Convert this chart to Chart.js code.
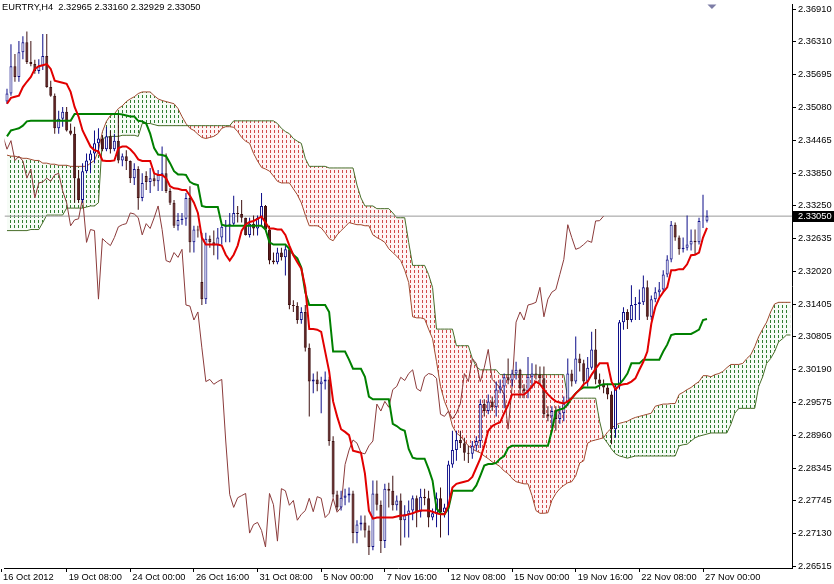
<!DOCTYPE html>
<html><head><meta charset="utf-8">
<script src="https://cdn.jsdelivr.net/npm/chart.js@4.4.1/dist/chart.umd.min.js"></script>
<style>html,body{margin:0;padding:0;background:#fff;overflow:hidden}#wrap{width:834px;height:584px}</style>
</head><body><div id="wrap"><canvas id="c" width="834" height="584" style="width:834px;height:584px"></canvas></div>
<script>
const symbol = 'EURTRY,H4';
const chikouShift = 26;

const opens = [
2.3519,2.3534,2.3585,2.3565,2.3611,2.3630,2.3593,2.3589,2.3576,2.3585,
2.3604,2.3546,2.3530,2.3469,2.3487,2.3500,2.3465,2.3459,2.3376,2.3335,
2.3389,2.3409,2.3422,2.3441,2.3450,2.3430,2.3454,2.3430,2.3446,2.3409,
2.3417,2.3408,2.3376,2.3393,2.3339,2.3380,2.3369,2.3376,2.3370,2.3382,
2.3385,2.3352,2.3330,2.3287,2.3298,2.3300,2.3339,2.3256,2.3280,2.3182,
2.3150,2.3263,2.3256,2.3250,2.3265,2.3285,2.3289,2.3291,2.3311,2.3309,
2.3302,2.3270,2.3291,2.3282,2.3302,2.3324,2.3280,2.3222,2.3219,2.3237,
2.3228,2.3243,2.3139,2.3137,2.3111,2.3126,2.3059,2.2996,2.3000,2.2991,
2.2996,2.3000,2.2885,2.2785,2.2761,2.2779,2.2783,2.2787,2.2713,2.2729,
2.2733,2.2718,2.2687,2.2787,2.2766,2.2698,2.2796,2.2792,2.2765,2.2774,
2.2737,2.2748,2.2755,2.2778,2.2753,2.2781,2.2778,2.2742,2.2750,2.2778,
2.2752,2.2761,2.2841,2.2868,2.2887,2.2881,2.2863,2.2861,2.2876,2.2885,
2.2954,2.2941,2.2959,2.2948,2.2981,2.2987,2.3004,2.2998,2.3011,2.3018,
2.2983,2.2978,2.3005,2.3011,2.3009,2.3002,2.2935,2.2931,2.2941,2.2926,
2.2937,2.2955,2.3011,2.2996,2.3039,2.3030,2.2996,2.3022,2.3056,2.3000,
2.2992,2.2985,2.2972,2.2907,2.2987,2.3107,2.3126,2.3111,2.3139,2.3141,
2.3144,2.3172,2.3117,2.3150,2.3163,2.3168,2.3196,2.3224,2.3289,2.3265,
2.3243,2.3246,2.3252,2.3259,2.3256,2.3296,2.32965];

const highs = [
2.3543,2.3626,2.3608,2.3632,2.3641,2.3650,2.3632,2.3597,2.3598,2.3645,
2.3645,2.3558,2.3534,2.3502,2.3509,2.3509,2.3478,2.3472,2.3391,2.3404,
2.3422,2.3428,2.3465,2.3469,2.3456,2.3472,2.3465,2.3459,2.3496,2.3422,
2.3428,2.3409,2.3404,2.3398,2.3385,2.3389,2.3395,2.3385,2.3391,2.3435,
2.3422,2.3357,2.3335,2.3311,2.3311,2.3348,2.3361,2.3287,2.3287,2.3274,
2.3274,2.3269,2.3278,2.3283,2.3289,2.3298,2.3311,2.3343,2.3324,2.3335,
2.3302,2.3302,2.3306,2.3306,2.3348,2.3326,2.3287,2.3237,2.3246,2.3246,
2.3250,2.3250,2.3148,2.3144,2.3135,2.3139,2.3067,2.3011,2.3015,2.3005,
2.3015,2.3005,2.2894,2.2792,2.2792,2.2796,2.2798,2.2792,2.2737,2.2746,
2.2746,2.2727,2.2811,2.2811,2.2774,2.2805,2.2807,2.2820,2.2783,2.2787,
2.2765,2.2774,2.2783,2.2783,2.2796,2.2796,2.2792,2.2759,2.2789,2.2798,
2.2768,2.2848,2.2904,2.2904,2.2904,2.2891,2.2876,2.2885,2.2894,2.2963,
2.2963,2.2972,2.2968,2.2996,2.3000,2.3011,2.3039,2.3018,2.3033,2.3020,
2.2991,2.3042,2.3030,2.3028,2.3024,2.3024,2.2950,2.2950,2.2950,2.2950,
2.2968,2.3039,2.3018,2.3080,2.3048,2.3037,2.3042,2.3089,2.3094,2.3011,
2.3000,2.2992,2.2978,2.2991,2.3111,2.3135,2.3131,2.3176,2.3154,2.3168,
2.3194,2.3185,2.3157,2.3172,2.3182,2.3204,2.3232,2.3296,2.3293,2.3269,
2.3265,2.3306,2.3280,2.3280,2.3302,2.3345,2.33160];

const lows = [
2.3515,2.3530,2.3556,2.3556,2.3598,2.3589,2.3585,2.3571,2.3571,2.3578,
2.3545,2.3528,2.3459,2.3459,2.3472,2.3463,2.3456,2.3330,2.3330,2.3330,
2.3385,2.3385,2.3404,2.3422,2.3426,2.3426,2.3422,2.3426,2.3404,2.3398,
2.3391,2.3367,2.3363,2.3317,2.3333,2.3354,2.3348,2.3361,2.3352,2.3352,
2.3348,2.3326,2.3283,2.3278,2.3289,2.3287,2.3237,2.3237,2.3265,2.3139,
2.3141,2.3246,2.3232,2.3224,2.3252,2.3256,2.3256,2.3287,2.3293,2.3293,
2.3269,2.3265,2.3269,2.3269,2.3287,2.3278,2.3215,2.3215,2.3215,2.3222,
2.3194,2.3131,2.3126,2.3104,2.3104,2.3052,2.2931,2.2974,2.2978,2.2937,
2.2981,2.2876,2.2779,2.2755,2.2755,2.2765,2.2770,2.2694,2.2694,2.2718,
2.2705,2.2672,2.2681,2.2755,2.2676,2.2685,2.2761,2.2755,2.2755,2.2690,
2.2705,2.2705,2.2737,2.2724,2.2742,2.2765,2.2724,2.2737,2.2724,2.2705,
2.2742,2.2709,2.2835,2.2848,2.2872,2.2848,2.2844,2.2852,2.2867,2.2872,
2.2931,2.2935,2.2941,2.2931,2.2974,2.2946,2.2991,2.2987,2.3000,2.2965,
2.2965,2.2965,2.2983,2.3000,2.2991,2.2928,2.2922,2.2909,2.2904,2.2917,
2.2922,2.2950,2.2987,2.2992,2.3015,2.2987,2.2987,2.3018,2.2991,2.2981,
2.2974,2.2963,2.2879,2.2891,2.2981,2.3093,2.3094,2.3107,2.3111,2.3111,
2.3139,2.3111,2.3111,2.3144,2.3154,2.3163,2.3191,2.3219,2.3259,2.3233,
2.3237,2.3241,2.3241,2.3233,2.3252,2.3283,2.32929];

const closes = [
2.3534,2.3585,2.3565,2.3611,2.3630,2.3593,2.3589,2.3576,2.3585,2.3604,
2.3546,2.3530,2.3469,2.3487,2.3500,2.3465,2.3459,2.3376,2.3335,2.3389,
2.3409,2.3422,2.3441,2.3450,2.3430,2.3454,2.3430,2.3446,2.3409,2.3417,
2.3408,2.3376,2.3393,2.3339,2.3367,2.3369,2.3376,2.3370,2.3382,2.3385,
2.3352,2.3330,2.3287,2.3298,2.3300,2.3339,2.3256,2.3280,2.3278,2.3150,
2.3263,2.3256,2.3250,2.3265,2.3285,2.3289,2.3291,2.3311,2.3309,2.3302,
2.3270,2.3291,2.3282,2.3302,2.3324,2.3280,2.3222,2.3219,2.3237,2.3228,
2.3243,2.3139,2.3137,2.3111,2.3126,2.3059,2.2996,2.3000,2.2991,2.2996,
2.3000,2.2885,2.2785,2.2761,2.2779,2.2783,2.2787,2.2713,2.2729,2.2733,
2.2718,2.2687,2.2787,2.2766,2.2698,2.2796,2.2792,2.2765,2.2774,2.2737,
2.2748,2.2755,2.2778,2.2753,2.2781,2.2778,2.2742,2.2750,2.2778,2.2752,
2.2761,2.2841,2.2868,2.2887,2.2881,2.2863,2.2861,2.2876,2.2885,2.2954,
2.2941,2.2959,2.2948,2.2981,2.2987,2.3004,2.2998,2.3011,2.3018,2.2983,
2.2978,2.3005,2.3011,2.3009,2.3002,2.2935,2.2931,2.2941,2.2926,2.2937,
2.2955,2.3011,2.2996,2.3039,2.3030,2.2996,2.3022,2.3056,2.3000,2.2992,
2.2985,2.2972,2.2907,2.2987,2.3107,2.3126,2.3111,2.3139,2.3141,2.3144,
2.3172,2.3117,2.3150,2.3163,2.3168,2.3196,2.3224,2.3289,2.3265,2.3243,
2.3246,2.3252,2.3259,2.3256,2.3296,2.32965,2.33050];

const tenkan = [
2.3515,2.3526,2.3528,2.3530,2.3546,2.3556,2.3565,2.3580,2.3585,2.3587,
2.3589,2.3580,2.3558,2.3556,2.3554,2.3552,2.3537,2.3509,2.3491,2.3465,
2.3450,2.3435,2.3428,2.3426,2.3409,2.3408,2.3408,2.3409,2.3432,2.3435,
2.3435,2.3430,2.3422,2.3411,2.3408,2.3408,2.3408,2.3385,2.3382,2.3382,
2.3376,2.3361,2.3357,2.3356,2.3354,2.3354,2.3343,2.3330,2.3311,2.3265,
2.3252,2.3252,2.3252,2.3252,2.3250,2.3233,2.3222,2.3233,2.3250,2.3278,
2.3289,2.3294,2.3296,2.3300,2.3304,2.3293,2.3282,2.3282,2.3280,2.3280,
2.3270,2.3250,2.3232,2.3219,2.3207,2.3172,2.3094,2.3094,2.3093,2.3089,
2.3052,2.3015,2.2959,2.2931,2.2907,2.2902,2.2896,2.2867,2.2865,2.2863,
2.2824,2.2755,2.2740,2.2742,2.2742,2.2742,2.2742,2.2742,2.2744,2.2746,
2.2746,2.2748,2.2750,2.2753,2.2755,2.2755,2.2755,2.2753,2.2750,2.2748,
2.2748,2.2765,2.2798,2.2805,2.2807,2.2809,2.2811,2.2818,2.2835,2.2852,
2.2876,2.2904,2.2913,2.2917,2.2920,2.2937,2.2952,2.2972,2.2972,2.2972,
2.2972,2.2978,2.2987,2.2996,2.2991,2.2981,2.2972,2.2965,2.2959,2.2957,
2.2955,2.2959,2.2965,2.2974,2.2981,2.2991,2.2996,2.3009,2.3020,2.3030,
2.3030,2.3030,2.2996,2.2981,2.2989,2.2991,2.2992,2.2996,2.3002,2.3018,
2.3033,2.3052,2.3104,2.3135,2.3152,2.3163,2.3172,2.3204,2.3204,2.3206,
2.3206,2.3215,2.3232,2.3233,2.3237,2.3265,2.3283];

const kijun = [
2.3454,2.3465,2.3467,2.3469,2.3474,2.3482,2.3483,2.3483,2.3483,2.3483,
2.3483,2.3483,2.3483,2.3483,2.3483,2.3483,2.3483,2.3496,2.3496,2.3496,
2.3496,2.3496,2.3496,2.3496,2.3496,2.3496,2.3496,2.3496,2.3496,2.3495,
2.3493,2.3491,2.3491,2.3483,2.3482,2.3478,2.3459,2.3432,2.3420,2.3419,
2.3417,2.3404,2.3389,2.3383,2.3383,2.3382,2.3369,2.3365,2.3363,2.3324,
2.3322,2.3322,2.3322,2.3322,2.3289,2.3287,2.3287,2.3287,2.3287,2.3287,
2.3287,2.3287,2.3287,2.3287,2.3287,2.3280,2.3256,2.3252,2.3252,2.3252,
2.3252,2.3244,2.3233,2.3226,2.3209,2.3163,2.3139,2.3139,2.3139,2.3139,
2.3139,2.3126,2.3052,2.3052,2.3052,2.3052,2.3037,2.3020,2.3020,2.3020,
2.3005,2.2968,2.2963,2.2963,2.2963,2.2963,2.2963,2.2917,2.2913,2.2907,
2.2904,2.2870,2.2854,2.2852,2.2852,2.2852,2.2833,2.2811,2.2759,2.2750,
2.2748,2.2759,2.2792,2.2792,2.2792,2.2792,2.2792,2.2792,2.2802,2.2820,
2.2839,2.2842,2.2842,2.2844,2.2852,2.2857,2.2872,2.2876,2.2876,2.2876,
2.2876,2.2876,2.2876,2.2876,2.2876,2.2876,2.2876,2.2904,2.2941,2.2944,
2.2946,2.2954,2.2965,2.2974,2.2981,2.2985,2.2985,2.2985,2.2985,2.2989,
2.2991,2.2991,2.2991,2.2991,2.2991,2.3000,2.3011,2.3030,2.3030,2.3030,
2.3037,2.3037,2.3037,2.3037,2.3037,2.3052,2.3065,2.3083,2.3085,2.3085,
2.3085,2.3085,2.3085,2.3089,2.3093,2.3111,2.3113];

const senkouA = [
2.3419,2.3417,2.3417,2.3415,2.3413,2.3413,2.3411,2.3409,2.3409,2.3404,
2.3404,2.3402,2.3402,2.3400,2.3400,2.3400,2.3398,2.3398,2.3398,2.3398,
2.3398,2.3404,2.3409,2.3428,2.3463,2.3482,2.3493,2.3496,2.3506,2.3511,
2.3519,2.3524,2.3528,2.3534,2.3537,2.3537,2.3537,2.3530,2.3524,2.3521,
2.3519,2.3517,2.3515,2.3506,2.3491,2.3478,2.3469,2.3465,2.3458,2.3452,
2.3450,2.3452,2.3454,2.3459,2.3469,2.3472,2.3472,2.3471,2.3463,2.3452,
2.3445,2.3441,2.3422,2.3408,2.3396,2.3393,2.3389,2.3380,2.3370,2.3367,
2.3367,2.3367,2.3356,2.3345,2.3330,2.3307,2.3287,2.3287,2.3287,2.3283,
2.3274,2.3263,2.3259,2.3270,2.3278,2.3285,2.3293,2.3291,2.3289,2.3289,
2.3287,2.3287,2.3270,2.3265,2.3261,2.3256,2.3244,2.3237,2.3230,2.3222,
2.3204,2.3181,2.3117,2.3115,2.3115,2.3113,2.3094,2.3076,2.3033,2.2987,
2.2959,2.2941,2.2913,2.2900,2.2894,2.2885,2.2876,2.2870,2.2866,2.2863,
2.2857,2.2852,2.2846,2.2842,2.2837,2.2829,2.2824,2.2815,2.2809,2.2807,
2.2805,2.2805,2.2783,2.2755,2.2750,2.2750,2.2751,2.2774,2.2787,2.2796,
2.2802,2.2807,2.2809,2.2820,2.2844,2.2848,2.2881,2.2885,2.2887,2.2889,
2.2891,2.2902,2.2909,2.2915,2.2918,2.2920,2.2922,2.2926,2.2929,2.2931,
2.2933,2.2935,2.2937,2.2950,2.2952,2.2954,2.2954,2.2955,2.2955,2.2972,
2.2976,2.2981,2.2985,2.2991,2.2996,2.3007,2.3007,2.3005,2.3009,2.3011,
2.3015,2.3022,2.3028,2.3028,2.3028,2.3030,2.3039,2.3046,2.3061,2.3080,
2.3094,2.3107,2.3126,2.3141,2.3144,2.3144,2.3144,2.3144];

const senkouB = [
2.3278,2.3278,2.3278,2.3278,2.3278,2.3278,2.3280,2.3280,2.3280,2.3293,
2.3307,2.3307,2.3307,2.3307,2.3307,2.3320,2.3320,2.3320,2.3320,2.3320,
2.3322,2.3324,2.3324,2.3330,2.3450,2.3452,2.3454,2.3454,2.3454,2.3456,
2.3456,2.3456,2.3456,2.3454,2.3478,2.3478,2.3478,2.3476,2.3474,2.3474,
2.3474,2.3474,2.3474,2.3474,2.3474,2.3474,2.3474,2.3474,2.3474,2.3474,
2.3474,2.3474,2.3474,2.3474,2.3474,2.3474,2.3474,2.3483,2.3483,2.3483,
2.3483,2.3483,2.3483,2.3483,2.3483,2.3483,2.3483,2.3483,2.3478,2.3469,
2.3463,2.3459,2.3450,2.3445,2.3441,2.3413,2.3398,2.3398,2.3398,2.3398,
2.3398,2.3395,2.3395,2.3395,2.3395,2.3395,2.3395,2.3395,2.3363,2.3339,
2.3324,2.3324,2.3324,2.3319,2.3319,2.3319,2.3319,2.3311,2.3302,2.3302,
2.3302,2.3256,2.3213,2.3213,2.3213,2.3213,2.3196,2.3172,2.3094,2.3094,
2.3094,2.3094,2.3094,2.3063,2.3063,2.3063,2.3063,2.3039,2.3024,2.3018,
2.3018,2.3018,2.3018,2.3018,2.3009,2.3009,2.3009,2.3009,2.3009,2.3009,
2.3009,2.3009,2.3009,2.3009,2.3009,2.3009,2.3009,2.3009,2.3009,2.3009,
2.3009,2.2965,2.2965,2.2965,2.2965,2.2965,2.2965,2.2965,2.2965,2.2922,
2.2891,2.2881,2.2870,2.2861,2.2857,2.2855,2.2853,2.2855,2.2857,2.2857,
2.2857,2.2857,2.2857,2.2857,2.2857,2.2857,2.2857,2.2857,2.2857,2.2876,
2.2878,2.2879,2.2885,2.2891,2.2894,2.2896,2.2898,2.2900,2.2900,2.2900,
2.2900,2.2900,2.2916,2.2937,2.2946,2.2946,2.2946,2.2946,2.2946,2.2987,
2.3005,2.3030,2.3039,2.3052,2.3070,2.3076,2.3083,2.3083];

const yTicks = [2.36910,2.36310,2.35695,2.35080,2.34465,2.33850,2.33250,2.32635,2.32020,
  2.31405,2.30805,2.30190,2.29575,2.28960,2.28345,2.27745,2.27130,2.26515];
const xTickBars = [-1.5,15,31,47,63,79,95,111,127,143,159,175];
const xTickLabels = ['16 Oct 2012','19 Oct 08:00','24 Oct 00:00','26 Oct 16:00','31 Oct 08:00',
  '5 Nov 00:00','7 Nov 16:00','12 Nov 08:00','15 Nov 00:00','19 Nov 16:00','22 Nov 08:00','27 Nov 00:00'];
const markerBars = [177.25];

const FONT = '"Liberation Sans", Arial, sans-serif';
const FSIZE = 9.3;
const X_MIN = -0.625, X_MAX = 197.375, Y_MIN = 2.26478, Y_MAX = 2.37003;

const canvas = document.getElementById('c');
const ctx0 = canvas.getContext('2d');
function hatch(bg, fg){
  const p = document.createElement('canvas'); p.width = 4; p.height = 5;
  const g = p.getContext('2d');
  g.fillStyle = bg; g.fillRect(0,0,4,5);
  g.fillStyle = fg; g.fillRect(2,0,1,3);
  return ctx0.createPattern(p,'repeat');
}
const greenHatch = hatch('rgba(240,250,240,0.6)', '#2f7d2f');
const redHatch = hatch('rgba(255,238,238,0.6)', '#cf4a4a');

const N = closes.length;
const idx = closes.map((_, i) => i);
const isBull = idx.map(i => closes[i] >= opens[i]);
const last = closes[N-1];
const BULL = '#0c0c88', BEAR = '#3e1010', BEARFILL = '#5e1e1e';

const overlay = {
  id: 'overlay',
  afterDraw(chart){
    const ctx = chart.ctx, ys = chart.scales.y;
    ctx.save();
    ctx.font = FSIZE + 'px ' + FONT;
    ctx.textBaseline = 'middle';
    ctx.fillStyle = '#000';
    const title = symbol + '  ' + opens[N-1].toFixed(5) + ' ' + highs[N-1].toFixed(5) + ' ' +
      lows[N-1].toFixed(5) + ' ' + closes[N-1].toFixed(5);
    ctx.fillText(title, 2, 7);
    const py = ys.getPixelForValue(last);
    ctx.fillStyle = '#000';
    ctx.fillRect(793, Math.round(py - 5.5), 41, 11);
    ctx.fillStyle = '#fff';
    ctx.fillText(last.toFixed(5), 798, py + 0.5);
    ctx.restore();
  }
};

new Chart(canvas, {
  type: 'line',
  data: {
    datasets: [
      { type:'line', label:'Senkou A', data: senkouA.map((v,i)=>({x:i,y:v})),
        borderColor:'#a04a30', borderWidth:1, pointRadius:0, tension:0,
        fill:{target:'+1', above: greenHatch, below: redHatch}, order:10 },
      { type:'line', label:'Senkou B', data: senkouB.map((v,i)=>({x:i,y:v})),
        borderColor:'#476e2a', borderWidth:1, pointRadius:0, tension:0, fill:false, order:9 },
      { type:'line', label:'Price', data:[{x:X_MIN,y:last},{x:X_MAX,y:last}],
        borderColor:'#9a9a9a', borderWidth:1, pointRadius:0, fill:false, order:8 },
      { type:'line', label:'Chikou', data: closes.map((c,i)=>({x:i-chikouShift,y:c})),
        borderColor:'#8b3b3b', borderWidth:1, pointRadius:0, tension:0, fill:false, order:7 },
      { type:'bar', label:'Wicks', data: idx.map(i=>({x:i,y:[lows[i],highs[i]]})),
        backgroundColor: idx.map(i=>isBull[i]?BULL:BEAR), borderWidth:0,
        barThickness:1, grouped:false, inflateAmount:0, order:6 },
      { type:'bar', label:'Bodies', data: idx.map(i=>({x:i,y:[opens[i],closes[i]]})),
        backgroundColor: idx.map(i=>isBull[i]?'#ffffff':BEARFILL),
        borderColor: idx.map(i=>isBull[i]?BULL:BEAR), borderWidth:1, borderSkipped:false,
        barThickness:3, grouped:false, inflateAmount:0, order:5 },
      { type:'line', label:'Kijun', data: kijun.map((v,i)=>({x:i,y:v})),
        borderColor:'#008000', borderWidth:2, pointRadius:0, tension:0, fill:false, order:2 },
      { type:'line', label:'Tenkan', data: tenkan.map((v,i)=>({x:i,y:v})),
        borderColor:'#e20000', borderWidth:2, pointRadius:0, tension:0, fill:false, order:1 },
      { type:'scatter', label:'Marker', data: markerBars.map(b=>({x:b,y:Y_MAX})),
        pointStyle:'rectRot', pointRadius:4.5, backgroundColor:'#7d7da6', borderColor:'#7d7da6',
        borderWidth:0, order:0 }
    ]
  },
  options: {
    responsive:false, animation:false, devicePixelRatio:1, events:[],
    layout:{padding:0},
    plugins:{legend:{display:false}, tooltip:{enabled:false}, title:{display:false}},
    scales:{
      x:{ type:'linear', min:X_MIN, max:X_MAX, offset:false, position:'bottom',
        grid:{display:true, drawOnChartArea:false, drawTicks:true, tickLength:4, color:'#000', offset:false},
        border:{display:true, color:'#000', width:1},
        ticks:{autoSkip:false, maxRotation:0, minRotation:0, align:'start', labelOffset:2, padding:0,
          color:'#000', font:{family:FONT, size:FSIZE},
          callback:(v)=>{ const k = xTickBars.indexOf(v); return k>=0 ? xTickLabels[k] : ''; }},
        afterBuildTicks:(s)=>{ s.ticks = xTickBars.map(v=>({value:v})); },
        afterFit:(s)=>{ s.height = 16; s.paddingLeft = 0; s.paddingRight = 0; }
      },
      y:{ type:'linear', position:'right', min:Y_MIN, max:Y_MAX, beginAtZero:false,
        grid:{display:true, drawOnChartArea:false, drawTicks:true, tickLength:4, color:'#000'},
        border:{display:true, color:'#000', width:1},
        ticks:{autoSkip:false, padding:2, color:'#000', font:{family:FONT, size:FSIZE},
          callback:(v)=>Number(v).toFixed(5)},
        afterBuildTicks:(s)=>{ s.ticks = yTicks.map(v=>({value:v})); },
        afterFit:(s)=>{ s.width = 42; s.paddingTop = 0; s.paddingBottom = 0; }
      }
    }
  },
  plugins:[overlay]
});
</script></body></html>
